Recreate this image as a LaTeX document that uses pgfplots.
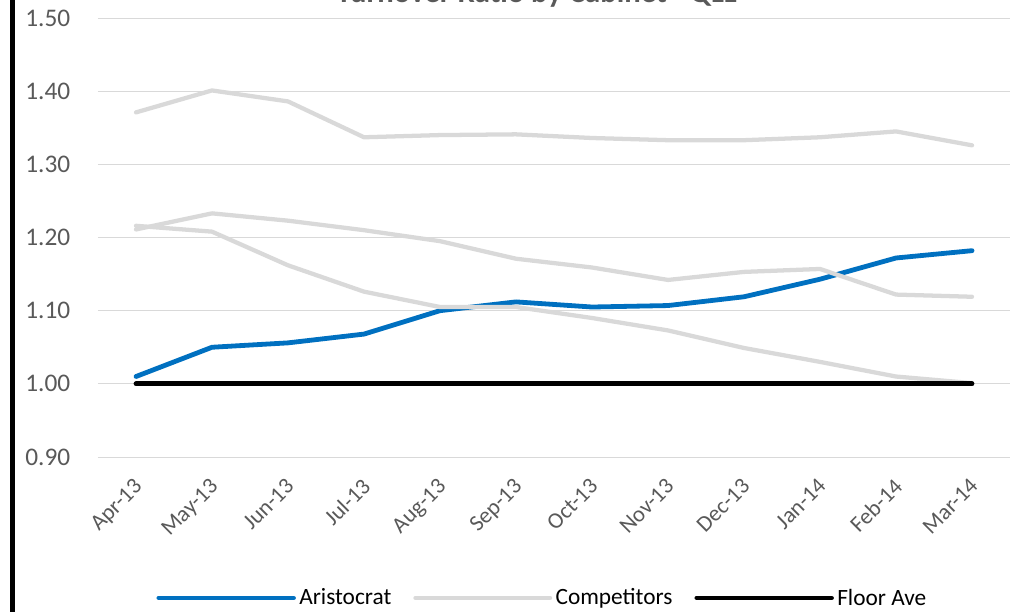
\documentclass[border=0pt]{standalone}
\usepackage{fontspec}
\setmainfont{Carlito}
\usepackage{pgfplots}
\pgfplotsset{compat=1.18}
\definecolor{aristo}{HTML}{0070C0}
\definecolor{comp}{HTML}{D9D9D9}
\definecolor{gridc}{HTML}{D9D9D9}
\definecolor{txt}{HTML}{595959}
\begin{document}
\begin{tikzpicture}
\begin{axis}[
  at={(0,0)}, anchor=south west,
  scale only axis,
  width=684pt, height=329.25pt,
  xmin=-0.5, xmax=11.5,
  ymin=0.9, ymax=1.5,
  xtick={0,...,11},
  xticklabels={Apr-13,May-13,Jun-13,Jul-13,Aug-13,Sep-13,Oct-13,Nov-13,Dec-13,Jan-14,Feb-14,Mar-14},
  minor xtick={-0.5,0.5,...,11.5},
  ytick={0.9,1.0,...,1.5},
  ymajorgrids,
  major grid style={gridc, line width=0.75pt},
  axis x line*=bottom, axis y line*=left,
  x axis line style={gridc, line width=0.75pt},
  y axis line style={draw=none},
  xtick style={draw=none},
  ytick style={draw=none},
  minor tick style={gridc, line width=0.75pt},
  tick align=outside,
  minor tick length=5.25pt,
  tick label style={font=\fontsize{19}{22}\selectfont, text=txt},
  /pgf/number format/assume math mode=true,
  yticklabel style={/pgf/number format/.cd, fixed, fixed zerofill, precision=2, /tikz/.cd, xshift=-13pt},
  xticklabel style={font=\fontsize{17}{20}\selectfont, rotate=45, anchor=north east, xshift=-6pt, yshift=-2.5pt},
  legend style={at={(0.488,-0.321)}, anchor=center, draw=none, fill=none,
    legend columns=3, font=\fontsize{17.5}{20}\selectfont,
    /tikz/every even column/.append style={column sep=14pt},
    nodes={inner sep=2.5pt}},
  legend image code/.code={\draw[#1] (0pt,0pt) -- (101pt,0pt);},
  every axis plot/.append style={line join=round, line cap=round},
]
\addplot[aristo, line width=3.6pt] coordinates {
(0,1.010) (1,1.050) (2,1.056) (3,1.068) (4,1.100) (5,1.112)
(6,1.105) (7,1.107) (8,1.119) (9,1.143) (10,1.172) (11,1.182)};
\addlegendentry{Aristocrat}
\addplot[comp, line width=3.2pt] coordinates {
(0,1.371) (1,1.401) (2,1.386) (3,1.337) (4,1.340) (5,1.341)
(6,1.336) (7,1.333) (8,1.333) (9,1.337) (10,1.345) (11,1.326)};
\addlegendentry{Competitors}
\addplot[comp, line width=3.2pt, forget plot] coordinates {
(0,1.211) (1,1.233) (2,1.223) (3,1.210) (4,1.195) (5,1.171)
(6,1.159) (7,1.142) (8,1.153) (9,1.157) (10,1.122) (11,1.119)};
\addplot[comp, line width=3.2pt, forget plot] coordinates {
(0,1.216) (1,1.208) (2,1.162) (3,1.126) (4,1.105) (5,1.105)
(6,1.090) (7,1.073) (8,1.049) (9,1.030) (10,1.010) (11,1.001)};
\addplot[black, line width=3.6pt] coordinates {
(0,1.0) (1,1.0) (2,1.0) (3,1.0) (4,1.0) (5,1.0)
(6,1.0) (7,1.0) (8,1.0) (9,1.0) (10,1.0) (11,1.0)};
\addlegendentry{Floor Ave}
\end{axis}
\node[anchor=base, font=\bfseries\fontsize{23}{26}\selectfont, text=txt] at (329pt,341pt) {Turnover Ratio by Cabinet - QLL};
\draw[black, line width=4pt] (-64pt,-120pt) -- (-64pt,350pt);
\pgfresetboundingbox
\useasboundingbox (-73.5pt,-115.5pt) rectangle (686.25pt,342.75pt);
\end{tikzpicture}
\end{document}
